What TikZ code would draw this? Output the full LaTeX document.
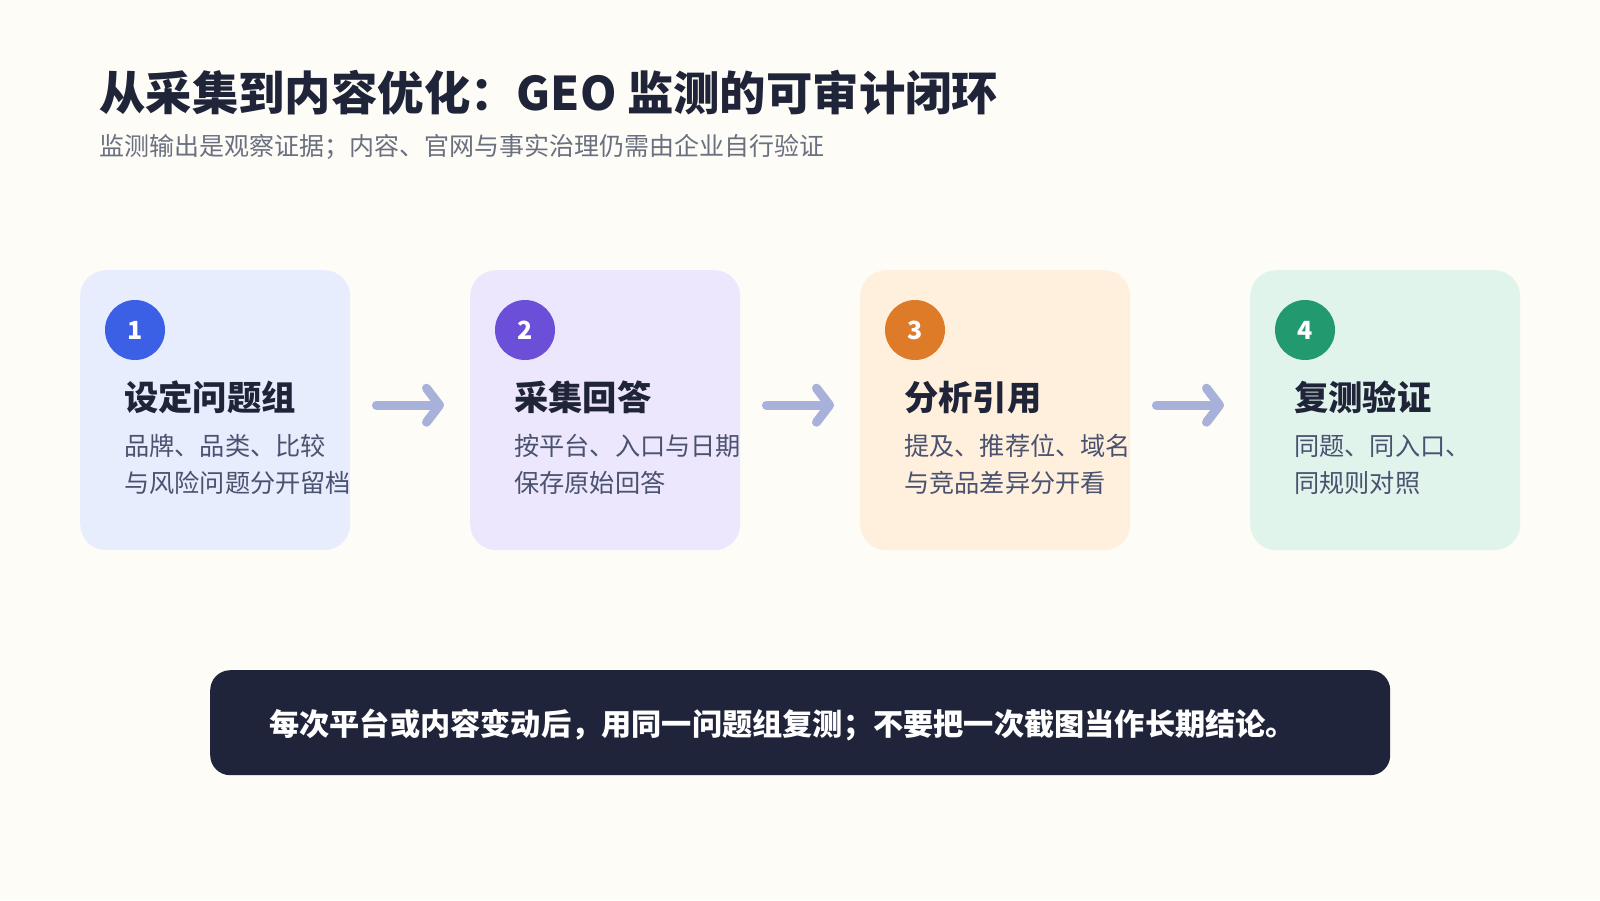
\documentclass[tikz,border=0pt]{standalone}
\usepackage{fontspec}
\setmainfont{Noto Sans CJK SC}
\usetikzlibrary{arrows.meta}
\definecolor{bgc}{HTML}{FDFCF7}
\definecolor{boxA}{HTML}{E7EDFD}
\definecolor{boxB}{HTML}{EDE7FD}
\definecolor{boxC}{HTML}{FEF0DD}
\definecolor{boxD}{HTML}{E0F4EC}
\definecolor{dotA}{HTML}{3B5FE5}
\definecolor{dotB}{HTML}{6B4FD8}
\definecolor{dotC}{HTML}{DD7B28}
\definecolor{dotD}{HTML}{22996F}
\definecolor{headc}{HTML}{1F2438}
\definecolor{bodyc}{HTML}{4A5270}
\definecolor{subc}{HTML}{6B7080}
\definecolor{arrc}{HTML}{A7B1D9}
\definecolor{banc}{HTML}{20243A}
\tikzset{
  x=1pt,y=-1pt,
  card/.style={rounded corners=26pt, minimum width=270pt, minimum height=280pt, anchor=north west, inner sep=0pt, draw=none},
  numdot/.style={circle, minimum size=60pt, inner sep=0pt, text=white, font=\fontsize{25}{25}\selectfont\bfseries},
  cardhead/.style={anchor=base west, inner sep=0pt, text=headc, font=\fontsize{34.3}{40}\selectfont\bfseries},
  cardbody/.style={anchor=base west, inner sep=0pt, text=bodyc, align=left, font=\fontsize{25.2}{37}\selectfont},
  flow/.style={draw=arrc, line width=9pt, line cap=round, -{Straight Barb[length=13pt,width=34pt,round]}},
}
\begin{document}
\begin{tikzpicture}
\fill[bgc] (0,0) rectangle (1600,900);
\useasboundingbox (0,0) rectangle (1600,900);
\node[anchor=base west, inner sep=0pt, text=headc, font=\fontsize{46.4}{52}\selectfont\bfseries] (title) at (99,110) {从采集到内容优化：GEO 监测的可审计闭环};
\node[anchor=base west, inner sep=0pt, text=subc, font=\fontsize{25}{30}\selectfont] (sub) at (99,155.5) {监测输出是观察证据；内容、官网与事实治理仍需由企业自行验证};

\node[card, fill=boxA] (b1) at (80,270) {};
\node[card, fill=boxB] (b2) at (470,270) {};
\node[card, fill=boxC] (b3) at (860,270) {};
\node[card, fill=boxD] (b4) at (1250,270) {};

\node[numdot, fill=dotA] (n1) at (135,330) {1};
\node[numdot, fill=dotB] (n2) at (525,330) {2};
\node[numdot, fill=dotC] (n3) at (915,330) {3};
\node[numdot, fill=dotD] (n4) at (1305,330) {4};

\node[cardhead] (h1) at (124,410.5) {设定问题组};
\node[cardhead] (h2) at (514,410.5) {采集回答};
\node[cardhead] (h3) at (904,410.5) {分析引用};
\node[cardhead] (h4) at (1294,410.5) {复测验证};

\node[cardbody] (t1) at (124,492) {品牌、品类、比较\\与风险问题分开留档};
\node[cardbody] (t2) at (514,492) {按平台、入口与日期\\保存原始回答};
\node[cardbody] (t3) at (904,492) {提及、推荐位、域名\\与竞品差异分开看};
\node[cardbody] (t4) at (1294,492) {同题、同入口、\\同规则对照};

\draw[flow] ([xshift=26pt,yshift=5pt]b1.east) -- ([xshift=-26pt,yshift=5pt]b2.west);
\draw[flow] ([xshift=26pt,yshift=5pt]b2.east) -- ([xshift=-26pt,yshift=5pt]b3.west);
\draw[flow] ([xshift=26pt,yshift=5pt]b3.east) -- ([xshift=-26pt,yshift=5pt]b4.west);

\node[rounded corners=20pt, fill=banc, minimum width=1180pt, minimum height=105pt, anchor=north west, inner sep=0pt] (ban) at (210,670) {};
\node[anchor=base west, inner sep=0pt, text=white, font=\fontsize{30.2}{34}\selectfont\bfseries] (bant) at (269,735) {每次平台或内容变动后，用同一问题组复测；不要把一次截图当作长期结论。};
\end{tikzpicture}
\end{document}
